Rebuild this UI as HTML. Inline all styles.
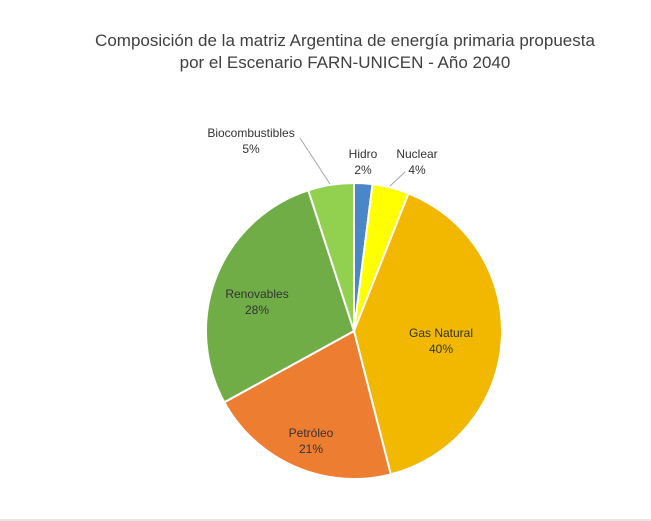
<!DOCTYPE html>
<html><head><meta charset="utf-8"><style>
html,body{margin:0;padding:0;background:#fff;width:651px;height:521px;overflow:hidden}
svg{display:block;font-family:"Liberation Sans",sans-serif}
</style></head><body>
<svg id="chart" width="651" height="521">
<text x="345" y="46" text-anchor="middle" font-size="17" fill="#404040">Composición de la matriz Argentina de energía primaria propuesta</text>
<text x="345" y="68" text-anchor="middle" font-size="17" fill="#404040">por el Escenario FARN-UNICEN - Año 2040</text>
<line x1="0" y1="520" x2="651" y2="520" stroke="#c8d0c8" stroke-width="1"/>
<g id="slices"></g>
<line x1="300" y1="138" x2="330" y2="184" stroke="#a6a6a6"/>
<line x1="390" y1="186" x2="405" y2="172" stroke="#a6a6a6"/>
<g id="labels"></g>
</svg>
<script>
const categories=["Hidro","Nuclear","Gas Natural","Petróleo","Renovables","Biocombustibles"];
const values=[2,4,40,21,28,5];
const colors=["#4a86c8","#ffff00","#f2b800","#ed7d31","#70ad47","#92d050"];
const labelPos=[[363,158],[417,158],[441,337],[311,437],[257,298],[251,137]];
const cx=354,cy=331,r=148;
const total=values.reduce((a,b)=>a+b,0);
const NS="http://www.w3.org/2000/svg";
const gs=document.getElementById("slices"),gl=document.getElementById("labels");
let a0=-Math.PI/2;
values.forEach((v,i)=>{
  const a1=a0+v/total*2*Math.PI;
  const x0=cx+r*Math.cos(a0),y0=cy+r*Math.sin(a0),x1=cx+r*Math.cos(a1),y1=cy+r*Math.sin(a1);
  const p=document.createElementNS(NS,"path");
  p.setAttribute("d",`M${cx},${cy}L${x0},${y0}A${r},${r} 0 ${a1-a0>Math.PI?1:0} 1 ${x1},${y1}Z`);
  p.setAttribute("fill",colors[i]);p.setAttribute("stroke","#fff");p.setAttribute("stroke-width","2");
  
  
  gs.appendChild(p);
  const [lx,ly]=labelPos[i];
  const t=document.createElementNS(NS,"text");
  t.setAttribute("x",lx);t.setAttribute("y",ly);t.setAttribute("text-anchor","middle");
  t.setAttribute("font-size","12");t.setAttribute("fill","#333");
  
  
  const s1=document.createElementNS(NS,"tspan");s1.setAttribute("x",lx);s1.textContent=categories[i];
  const s2=document.createElementNS(NS,"tspan");s2.setAttribute("x",lx);s2.setAttribute("dy","16");s2.textContent=v+"%";
  t.appendChild(s1);t.appendChild(s2);gl.appendChild(t);
  a0=a1;
});
</script>
</body></html>
